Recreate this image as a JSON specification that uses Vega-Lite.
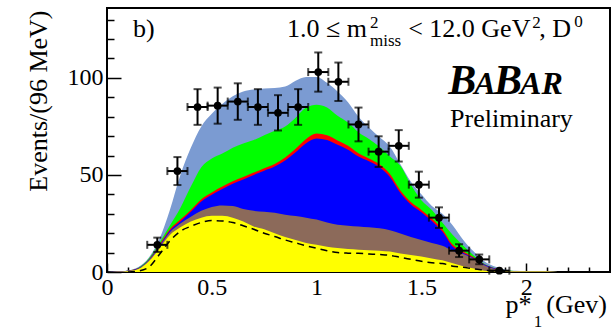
{
  "$schema": "https://vega.github.io/schema/vega-lite/v6.json",
  "width": 503,
  "height": 264,
  "autosize": {"type": "none"},
  "padding": {"left": 107, "top": 8, "right": 1, "bottom": 61},
  "background": "white",
  "config": {"view": {"stroke": "black", "strokeWidth": 2}, "font": "Liberation Serif", "axis": {"labelOverlap": false, "labelBound": false}},
  "datasets": {
    "curves": [
      {"x": 0.00, "yel": 0, "brn": 0, "blu": 0, "red": 0, "grn": 0, "tot": 0},
      {"x": 0.05, "yel": 0.1, "brn": 0.15, "blu": 0.2, "red": 0.2, "grn": 0.25, "tot": 0.3},
      {"x": 0.10, "yel": 0.4, "dash": 0, "brn": 0.5, "blu": 0.6, "red": 0.65, "grn": 0.7, "tot": 0.8},
      {"x": 0.15, "yel": 1.5, "dash": 0.5, "brn": 1.7, "blu": 1.9, "red": 2, "grn": 2.2, "tot": 2.6},
      {"x": 0.20, "yel": 5.5, "dash": 2.5, "brn": 6, "blu": 6.3, "red": 6.5, "grn": 7, "tot": 7.5},
      {"x": 0.25, "yel": 12, "dash": 9, "brn": 13, "blu": 13.6, "red": 14, "grn": 15, "tot": 17},
      {"x": 0.30, "yel": 19, "dash": 16, "brn": 20.5, "blu": 21.3, "red": 22, "grn": 24, "tot": 32},
      {"x": 0.35, "yel": 23, "dash": 21, "brn": 25, "blu": 26, "red": 27, "grn": 33, "tot": 50},
      {"x": 0.40, "yel": 26, "dash": 23.5, "brn": 28.5, "blu": 31, "red": 32, "grn": 44, "tot": 64},
      {"x": 0.45, "yel": 28, "dash": 25.5, "brn": 31.5, "blu": 36.3, "red": 37.5, "grn": 54, "tot": 75},
      {"x": 0.50, "yel": 29, "dash": 26.5, "brn": 33.5, "blu": 39.8, "red": 41, "grn": 58.5, "tot": 81.5},
      {"x": 0.55, "yel": 29, "dash": 26.3, "brn": 34.3, "blu": 42.8, "red": 44, "grn": 61, "tot": 86.5},
      {"x": 0.60, "yel": 28, "dash": 25.5, "brn": 34, "blu": 45.5, "red": 46.8, "grn": 64, "tot": 90.5},
      {"x": 0.65, "yel": 26, "dash": 23.8, "brn": 32.5, "blu": 47.7, "red": 49, "grn": 66.2, "tot": 93},
      {"x": 0.70, "yel": 23.5, "dash": 22, "brn": 31.5, "blu": 50, "red": 51.2, "grn": 68, "tot": 94},
      {"x": 0.75, "yel": 22, "dash": 20, "brn": 31, "blu": 52.2, "red": 53.5, "grn": 70.5, "tot": 94.5},
      {"x": 0.80, "yel": 20, "dash": 18.3, "brn": 30.5, "blu": 54.3, "red": 55.7, "grn": 72.8, "tot": 94.8},
      {"x": 0.85, "yel": 18, "dash": 16.5, "brn": 29.5, "blu": 57.5, "red": 59, "grn": 75, "tot": 95.5},
      {"x": 0.90, "yel": 16.5, "dash": 15, "brn": 28.8, "blu": 61.7, "red": 63.5, "grn": 79.5, "tot": 98.5},
      {"x": 0.95, "yel": 15, "dash": 13.5, "brn": 28, "blu": 66.3, "red": 68.5, "grn": 84.7, "tot": 100.5},
      {"x": 1.00, "yel": 14, "dash": 12.2, "brn": 27, "blu": 68.8, "red": 71.3, "grn": 86.2, "tot": 100.5},
      {"x": 1.05, "yel": 13, "dash": 11, "brn": 25.5, "blu": 68, "red": 70.5, "grn": 84.8, "tot": 97.5},
      {"x": 1.10, "yel": 12.3, "dash": 10, "brn": 24.3, "blu": 65.5, "red": 67.8, "grn": 80.5, "tot": 93},
      {"x": 1.15, "yel": 11.8, "dash": 9.7, "brn": 23.8, "blu": 63, "red": 65, "grn": 77, "tot": 87.5},
      {"x": 1.20, "yel": 11.5, "dash": 9.6, "brn": 23.4, "blu": 59.5, "red": 61.2, "grn": 72, "tot": 80},
      {"x": 1.25, "yel": 11.2, "dash": 9.3, "brn": 23, "blu": 57, "red": 58.5, "grn": 68.5, "tot": 74.5},
      {"x": 1.30, "yel": 11, "dash": 9, "brn": 22.5, "blu": 54, "red": 55.5, "grn": 64.5, "tot": 69.5},
      {"x": 1.35, "yel": 10.5, "dash": 8.6, "brn": 21.5, "blu": 49, "red": 50.5, "grn": 59.5, "tot": 64.5},
      {"x": 1.40, "yel": 9.5, "dash": 7.5, "brn": 19.8, "blu": 40.7, "red": 42, "grn": 54.7, "tot": 55.5},
      {"x": 1.45, "yel": 8.8, "dash": 6.5, "brn": 18, "blu": 34.8, "red": 36, "grn": 45, "tot": 46.5},
      {"x": 1.50, "yel": 8, "dash": 5.5, "brn": 16.5, "blu": 30.8, "red": 32, "grn": 37, "tot": 40},
      {"x": 1.55, "yel": 7, "dash": 4.8, "brn": 15, "blu": 26.3, "red": 27.5, "grn": 32, "tot": 34},
      {"x": 1.60, "yel": 6, "dash": 4.4, "brn": 13.5, "blu": 20.8, "red": 22, "grn": 25.5, "tot": 30},
      {"x": 1.65, "yel": 4.5, "dash": 3, "brn": 11, "blu": 13, "red": 14, "grn": 19, "tot": 24},
      {"x": 1.70, "yel": 3, "dash": 2.4, "brn": 9.3, "blu": 9.8, "red": 10.5, "grn": 13.5, "tot": 16.5},
      {"x": 1.75, "yel": 1.8, "dash": 1.6, "brn": 6.8, "blu": 7.2, "red": 7.6, "grn": 8.5, "tot": 10.5},
      {"x": 1.80, "yel": 0.7, "dash": 1, "brn": 3.5, "blu": 3.8, "red": 4, "grn": 4.3, "tot": 5.5},
      {"x": 1.85, "yel": 0.4, "dash": 0.4, "brn": 1.6, "blu": 1.8, "red": 1.9, "grn": 2, "tot": 2.8},
      {"x": 1.90, "yel": 0.3, "dash": 0.1, "brn": 0.7, "blu": 0.8, "red": 0.85, "grn": 0.9, "tot": 1.2},
      {"x": 1.95, "yel": 0.3, "brn": 0.4, "blu": 0.4, "red": 0.4, "grn": 0.45, "tot": 0.6},
      {"x": 2.00, "yel": 0.3, "brn": 0.3, "blu": 0.3, "red": 0.3, "grn": 0.3, "tot": 0.35},
      {"x": 2.05, "yel": 0.3, "brn": 0.3, "blu": 0.3, "red": 0.3, "grn": 0.3, "tot": 0.3},
      {"x": 2.10, "yel": 0.2, "brn": 0.2, "blu": 0.2, "red": 0.2, "grn": 0.2, "tot": 0.2},
      {"x": 2.15, "yel": 0, "brn": 0, "blu": 0, "red": 0, "grn": 0, "tot": 0}
    ],
    "points": [
      {"x": 0.24, "y": 14, "xlo": 0.192, "xhi": 0.288, "ylo": 10.3, "yhi": 17.7},
      {"x": 0.336, "y": 52, "xlo": 0.288, "xhi": 0.384, "ylo": 44.8, "yhi": 59.2},
      {"x": 0.432, "y": 85, "xlo": 0.384, "xhi": 0.48, "ylo": 75.8, "yhi": 94.2},
      {"x": 0.528, "y": 85.7, "xlo": 0.48, "xhi": 0.576, "ylo": 76.4, "yhi": 95},
      {"x": 0.624, "y": 87.8, "xlo": 0.576, "xhi": 0.672, "ylo": 78.4, "yhi": 97.2},
      {"x": 0.72, "y": 85, "xlo": 0.672, "xhi": 0.768, "ylo": 75.8, "yhi": 94.2},
      {"x": 0.816, "y": 82, "xlo": 0.768, "xhi": 0.864, "ylo": 72.9, "yhi": 91.1},
      {"x": 0.912, "y": 85, "xlo": 0.864, "xhi": 0.96, "ylo": 75.8, "yhi": 94.2},
      {"x": 1.008, "y": 103, "xlo": 0.96, "xhi": 1.056, "ylo": 92.9, "yhi": 113.1},
      {"x": 1.104, "y": 98, "xlo": 1.056, "xhi": 1.152, "ylo": 88.1, "yhi": 107.9},
      {"x": 1.2, "y": 76, "xlo": 1.152, "xhi": 1.248, "ylo": 67.3, "yhi": 84.7},
      {"x": 1.296, "y": 62, "xlo": 1.248, "xhi": 1.344, "ylo": 54.1, "yhi": 69.9},
      {"x": 1.392, "y": 65, "xlo": 1.344, "xhi": 1.44, "ylo": 56.9, "yhi": 73.1},
      {"x": 1.488, "y": 45, "xlo": 1.44, "xhi": 1.536, "ylo": 38.3, "yhi": 51.7},
      {"x": 1.584, "y": 28, "xlo": 1.536, "xhi": 1.632, "ylo": 22.7, "yhi": 33.3},
      {"x": 1.68, "y": 11, "xlo": 1.632, "xhi": 1.728, "ylo": 7.7, "yhi": 14.3},
      {"x": 1.776, "y": 6.5, "xlo": 1.728, "xhi": 1.824, "ylo": 4, "yhi": 9},
      {"x": 1.872, "y": 0.7, "xlo": 1.824, "xhi": 1.92, "ylo": 0.7, "yhi": 0.7}
    ],
    "mainText": [
      {"x": 0.859, "y": 121.3, "t": "1.0 ≤ m"},
      {"x": 1.437, "y": 121.3, "t": "< 12.0 GeV"},
      {"x": 2.062, "y": 121.3, "t": ",  D"},
      {"x": 0.124, "y": 121.3, "t": "b)"},
      {"x": 1.637, "y": 74.6, "t": "Preliminary"},
      {"x": 1.901, "y": -21.1, "t": "p*"},
      {"x": 2.096, "y": -21.1, "t": "(Gev)"}
    ],
    "smallText": [
      {"x": 1.255, "y": 125.9, "t": "2"},
      {"x": 1.255, "y": 116.6, "t": "miss"},
      {"x": 2.029, "y": 125.9, "t": "2"},
      {"x": 2.229, "y": 126.4, "t": "0"},
      {"x": 2.036, "y": -28.3, "t": "1"}
    ],
    "logoBig": [
      {"x": 1.628, "y": 91.8, "t": "B"},
      {"x": 1.847, "y": 91.8, "t": "B"}
    ],
    "logoSmall": [
      {"x": 1.752, "y": 91.8, "t": "A"},
      {"x": 1.971, "y": 91.8, "t": "AR"}
    ]
  },
  "encoding": {
    "x": {"field": "x", "type": "quantitative", "scale": {"domain": [0, 2.4], "nice": false, "zero": false},
      "axis": {
        "values": [0, 0.1, 0.2, 0.3, 0.4, 0.5, 0.6, 0.7, 0.8, 0.9, 1, 1.1, 1.2, 1.3, 1.4, 1.5, 1.6, 1.7, 1.8, 1.9, 2, 2.1, 2.2, 2.3, 2.4],
        "format": ".1~f",
        "labelExpr": "abs(datum.value*2 - round(datum.value*2)) < 0.001 && datum.value < 2.2 ? datum.label : ''",
        "labelFontSize": {"condition": {"test": "abs(datum.value*2 - round(datum.value*2)) < 0.001 && datum.value < 2.2", "value": 24}, "value": 1},
        "tickSize": {"condition": {"test": "abs(datum.value*2 - round(datum.value*2)) < 0.001", "value": -9}, "value": -5},
        "tickWidth": 1.5, "tickColor": "black", "domain": false, "grid": false,
        "labelFont": "Liberation Serif", "labelColor": "black", "labelPadding": 12,
        "labelFlush": false, "labelOverlap": false, "title": null
      }},
    "y": {"field": "tot", "type": "quantitative", "scale": {"domain": [0, 136], "nice": false},
      "axis": {
        "values": [0, 10, 20, 30, 40, 50, 60, 70, 80, 90, 100, 110, 120, 130],
        "labelExpr": "datum.value == 0 || datum.value == 50 || datum.value == 100 ? datum.label : ''",
        "labelFontSize": {"condition": {"test": "datum.value == 0 || datum.value == 50 || datum.value == 100", "value": 24}, "value": 1},
        "tickSize": {"condition": {"test": "datum.value == 0 || datum.value == 50 || datum.value == 100", "value": -14}, "value": -7},
        "tickWidth": 1.5, "tickColor": "black", "domain": false, "grid": false,
        "labelFont": "Liberation Serif", "labelColor": "black", "labelPadding": 18,
        "labelFlush": false, "labelOverlap": false,
        "title": "Events/(96 MeV)", "titleFont": "Liberation Serif", "titleFontSize": 26, "titleFontWeight": "normal",
        "titleColor": "black", "titleAngle": 270, "titleX": -61, "titleY": 2, "titleAlign": "right", "titleBaseline": "alphabetic"
      }}
  },
  "layer": [
    {
      "data": {"name": "curves"},
      "mark": {"type": "area", "color": "#7B9BD2", "interpolate": "monotone"}
    },
    {
      "data": {"name": "curves"},
      "mark": {"type": "area", "color": "#00FF00", "interpolate": "monotone"},
      "encoding": {"y": {"field": "grn", "type": "quantitative", "scale": {"domain": [0, 136]}}}
    },
    {
      "data": {"name": "curves"},
      "mark": {"type": "area", "color": "#FF0000", "interpolate": "monotone"},
      "encoding": {"y": {"field": "red", "type": "quantitative", "scale": {"domain": [0, 136]}}}
    },
    {
      "data": {"name": "curves"},
      "mark": {"type": "area", "color": "#0000FF", "interpolate": "monotone"},
      "encoding": {"y": {"field": "blu", "type": "quantitative", "scale": {"domain": [0, 136]}}}
    },
    {
      "data": {"name": "curves"},
      "mark": {"type": "area", "color": "#8C6A5A", "interpolate": "monotone"},
      "encoding": {"y": {"field": "brn", "type": "quantitative", "scale": {"domain": [0, 136]}}}
    },
    {
      "data": {"name": "curves"},
      "mark": {"type": "area", "color": "#FFFF00", "interpolate": "monotone"},
      "encoding": {"y": {"field": "yel", "type": "quantitative", "scale": {"domain": [0, 136]}}}
    },
    {
      "data": {"name": "curves"},
      "mark": {"type": "line", "color": "black", "strokeWidth": 1.5, "strokeDash": [7, 5], "interpolate": "monotone"},
      "encoding": {"y": {"field": "dash", "type": "quantitative", "scale": {"domain": [0, 136]}}}
    },
    {
      "data": {"name": "points"},
      "mark": {"type": "rule", "color": "black", "strokeWidth": 2},
      "encoding": {
        "y": {"field": "ylo", "type": "quantitative", "scale": {"domain": [0, 136]}},
        "y2": {"field": "yhi"}
      }
    },
    {
      "data": {"name": "points"},
      "mark": {"type": "rule", "color": "black", "strokeWidth": 2},
      "encoding": {
        "x": {"field": "xlo", "type": "quantitative", "scale": {"domain": [0, 2.4]}},
        "x2": {"field": "xhi"},
        "y": {"field": "y", "type": "quantitative", "scale": {"domain": [0, 136]}}
      }
    },
    {
      "data": {"name": "points"},
      "mark": {"type": "tick", "orient": "horizontal", "color": "black", "size": 8, "thickness": 2},
      "encoding": {"y": {"field": "ylo", "type": "quantitative", "scale": {"domain": [0, 136]}}}
    },
    {
      "data": {"name": "points"},
      "mark": {"type": "tick", "orient": "horizontal", "color": "black", "size": 8, "thickness": 2},
      "encoding": {"y": {"field": "yhi", "type": "quantitative", "scale": {"domain": [0, 136]}}}
    },
    {
      "data": {"name": "points"},
      "mark": {"type": "tick", "orient": "vertical", "color": "black", "size": 8, "thickness": 2},
      "encoding": {
        "x": {"field": "xlo", "type": "quantitative", "scale": {"domain": [0, 2.4]}},
        "y": {"field": "y", "type": "quantitative", "scale": {"domain": [0, 136]}}
      }
    },
    {
      "data": {"name": "points"},
      "mark": {"type": "tick", "orient": "vertical", "color": "black", "size": 8, "thickness": 2},
      "encoding": {
        "x": {"field": "xhi", "type": "quantitative", "scale": {"domain": [0, 2.4]}},
        "y": {"field": "y", "type": "quantitative", "scale": {"domain": [0, 136]}}
      }
    },
    {
      "data": {"name": "points"},
      "mark": {"type": "circle", "color": "black", "opacity": 1, "size": 60},
      "encoding": {"y": {"field": "y", "type": "quantitative", "scale": {"domain": [0, 136]}}}
    },
    {
      "data": {"name": "mainText"},
      "mark": {"type": "text", "align": "left", "baseline": "alphabetic", "font": "Liberation Serif", "fontSize": 26, "color": "black"},
      "encoding": {
        "y": {"field": "y", "type": "quantitative", "scale": {"domain": [0, 136]}},
        "text": {"field": "t"}
      }
    },
    {
      "data": {"name": "smallText"},
      "mark": {"type": "text", "align": "left", "baseline": "alphabetic", "font": "Liberation Serif", "fontSize": 17, "color": "black"},
      "encoding": {
        "y": {"field": "y", "type": "quantitative", "scale": {"domain": [0, 136]}},
        "text": {"field": "t"}
      }
    },
    {
      "data": {"name": "logoBig"},
      "mark": {"type": "text", "align": "left", "baseline": "alphabetic", "font": "Liberation Serif", "fontSize": 42, "fontWeight": "bold", "fontStyle": "italic", "color": "black"},
      "encoding": {
        "y": {"field": "y", "type": "quantitative", "scale": {"domain": [0, 136]}},
        "text": {"field": "t"}
      }
    },
    {
      "data": {"name": "logoSmall"},
      "mark": {"type": "text", "align": "left", "baseline": "alphabetic", "font": "Liberation Serif", "fontSize": 32, "fontWeight": "bold", "fontStyle": "italic", "color": "black"},
      "encoding": {
        "y": {"field": "y", "type": "quantitative", "scale": {"domain": [0, 136]}},
        "text": {"field": "t"}
      }
    }
  ]
}
